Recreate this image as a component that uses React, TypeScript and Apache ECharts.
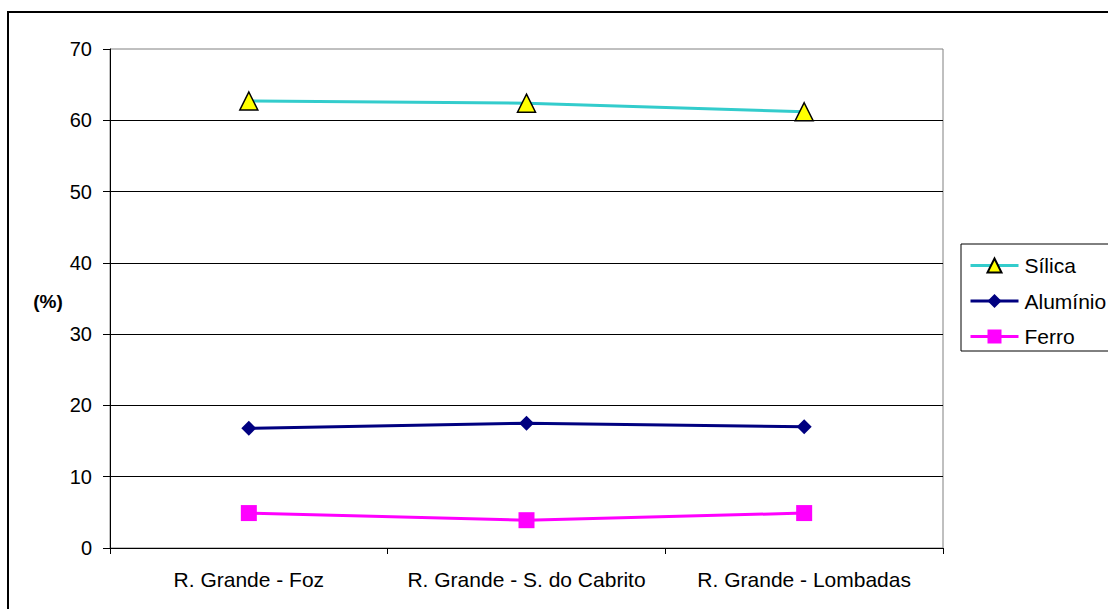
import React, { useEffect, useRef } from "react";
import * as echarts from "echarts";

const categories = ["R. Grande - Foz", "R. Grande - S. do Cabrito", "R. Grande - Lombadas"];
const silica = [62.7, 62.4, 61.2];
const aluminio = [16.8, 17.5, 17.0];
const ferro = [4.9, 3.9, 4.9];
const yTicks = { min: 0, max: 70, interval: 10 };

const FONT = "Arial, 'Liberation Sans', sans-serif";

export default function App() {
  const ref = useRef<HTMLDivElement>(null);
  useEffect(() => {
    document.body.style.margin = "0";
    const chart = echarts.init(ref.current!, null, { renderer: "svg" });
    chart.setOption({
      animation: false,
      backgroundColor: "#fff",
      textStyle: { fontFamily: FONT },
      grid: {
        left: 110,
        right: 165,
        top: 49,
        bottom: 61,
        show: true,
        borderColor: "#808080",
        borderWidth: 1,
        backgroundColor: "transparent",
      },
      xAxis: {
        type: "category",
        data: categories,
        boundaryGap: true,
        axisLine: { lineStyle: { color: "#000", width: 1 } },
        axisTick: { show: true, length: 6, lineStyle: { color: "#000" } },
        axisLabel: { color: "#000", fontSize: 21, fontFamily: FONT, margin: 21, interval: 0 },
        splitLine: { show: false },
      },
      yAxis: {
        type: "value",
        min: yTicks.min,
        max: yTicks.max,
        interval: yTicks.interval,
        axisLine: { show: true, lineStyle: { color: "#000", width: 1 } },
        axisTick: { show: true, length: 7, lineStyle: { color: "#000" } },
        axisLabel: { color: "#000", fontSize: 20, fontFamily: FONT, margin: 18 },
        splitLine: { show: true, showMaxLine: false, lineStyle: { color: "#000", width: 1 } },
      },
      legend: {
        orient: "vertical",
        left: 961,
        top: 244,
        itemWidth: 48,
        itemHeight: 17.5,
        itemGap: 14.5,
        padding: [11, 40, 4, 8],
        borderColor: "#000",
        borderWidth: 1,
        backgroundColor: "#fff",
        lineStyle: { width: 3 },
        textStyle: { color: "#000", fontSize: 21, lineHeight: 18, fontFamily: FONT, padding: [0, 0, 0, 1] },
        data: ["Sílica", "Alumínio", "Ferro"],
      },
      series: [
        {
          name: "Sílica",
          type: "line",
          data: silica,
          symbol: "triangle",
          symbolSize: 18,
          lineStyle: { color: "#33CCCC", width: 3 },
          itemStyle: { color: "#FFFF00", borderColor: "#000", borderWidth: 1.5 },
          z: 3,
        },
        {
          name: "Alumínio",
          type: "line",
          data: aluminio,
          symbol: "diamond",
          symbolSize: 15,
          lineStyle: { color: "#000080", width: 3 },
          itemStyle: { color: "#000080" },
          z: 3,
        },
        {
          name: "Ferro",
          type: "line",
          data: ferro,
          symbol: "rect",
          symbolSize: 16,
          lineStyle: { color: "#FF00FF", width: 3 },
          itemStyle: { color: "#FF00FF" },
          z: 3,
        },
      ],
      graphic: [
        {
          type: "rect",
          shape: { x: 8, y: 12, width: 1200, height: 700 },
          style: { fill: "none", stroke: "#000", lineWidth: 2 },
          silent: true,
        },
        {
          type: "text",
          x: 48,
          y: 301,
          style: {
            text: "(%)",
            fill: "#000",
            font: `bold 19px ${FONT}`,
            align: "center",
            verticalAlign: "middle",
          },
        },
      ],
    });
    return () => chart.dispose();
  }, []);
  return (
    <div
      ref={ref}
      style={{ position: "fixed", left: 0, top: 0, width: 1108, height: 609 }}
    />
  );
}
